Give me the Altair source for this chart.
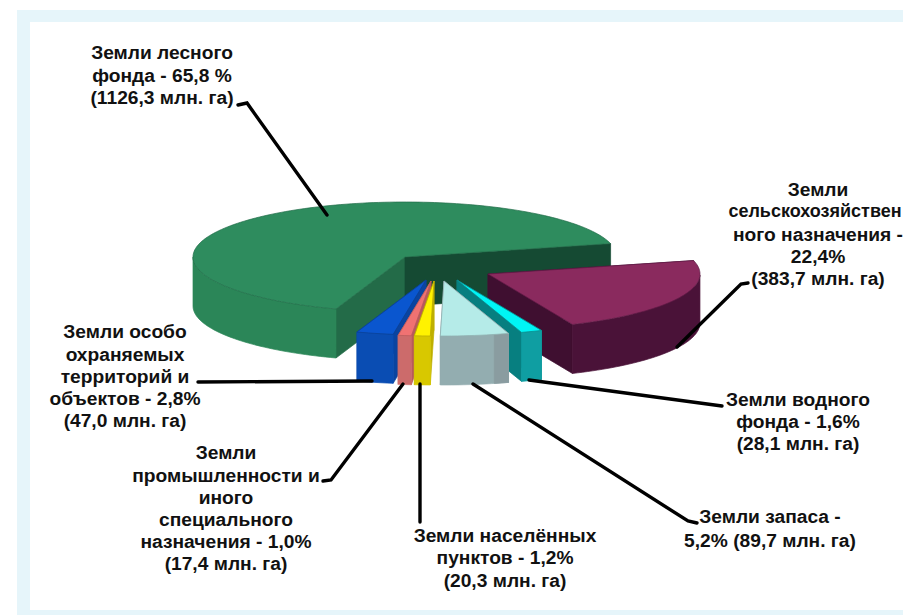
import math
import altair as alt
import pandas as pd

# ---- data
names = ["Земли лесного фонда", "Земли сельскохозяйственного назначения", "Земли водного фонда",
         "Земли запаса", "Земли населённых пунктов", "Земли промышленности и иного специального назначения",
         "Земли особо охраняемых территорий и объектов"]
shares = [65.8, 22.4, 1.6, 5.2, 1.2, 1.0, 2.8]
labels = [
    ["Земли лесного", "фонда - 65,8 %", "(1126,3 млн. га)"],
    ["Земли", "сельскохозяйствен", "ного назначения -", "22,4%", "(383,7 млн. га)"],
    ["Земли водного", "фонда - 1,6%", "(28,1 млн. га)"],
    ["Земли запаса -", "5,2% (89,7 млн. га)"],
    ["Земли населённых", "пунктов - 1,2%", "(20,3 млн. га)"],
    ["Земли", "промышленности и", "иного", "специального", "назначения - 1,0%", "(17,4 млн. га)"],
    ["Земли особо", "охраняемых", "территорий и", "объектов - 2,8%", "(47,0 млн. га)"],
]

# ---- layout and style
label_x = [162, 818, 798, 770, 505, 226, 125]
label_y = [[53, 76, 98], [190, 212, 235, 257, 279], [400, 422, 444], [517, 541],
           [536, 558, 581], [453, 476, 498, 520, 542, 564], [332, 355, 377, 399, 421]]
leaders = [
    [(238, 105), (247, 103), (327, 215)],
    [(748, 283), (741, 284), (677, 347)],
    [(529, 380), (722, 406)],
    [(473, 384), (688, 521), (697, 523)],
    [(420, 384), (420, 522)],
    [(403, 384), (331, 480), (323, 481)],
    [(198, 382), (372, 381)],
]
apex = [(405, 257), (488, 274), (457, 280), (444, 281), (434, 281), (431, 281), (426, 280)]
paint_order = [0, 1, 2, 6, 5, 4, 3]
top_col = ["#2e8c5e", "#8a2a5e", "#00f5f5", "#b5ebe8", "#fff200", "#f07272", "#0a56cf"]
rim_col = ["#2b8658", "#4a1238", "#0f9ea2", "#93adb0", "#d8c800", "#cc6b6b", "#0a4db3"]
cut_col = [("#236b48", "#154a33"), ("#4a1238", "#3f0f30"), ("#0c8587", "#077f80"), ("#8a9ca0", "#8a9ca0"),
           ("#bfb000", "#bfb000"), ("#b85a5a", "#b85a5a"), ("#0a44a0", "#0a44a0")]
edge_col = ["#1f6b47", "#5e1a45", "#0c8587", "#8fb0b0", "#b5a800", "#b85a5a", "#0a3f90"]
rim_shade = {3: (4.0, "#8a9ca0")}
RX, RY, H, START = 212, 55, 49, 109.0
FRAME = "#e6f5fa"
FONT_SIZE, LONG_SIZE, LONG_X = 19.2, 18, 815
LONG_LINE = "сельскохозяйствен"

features = []
def face(points, fill, stroke):
    ring = [list(p) for p in points] + [list(points[0])]
    features.append({"type": "Feature", "properties": {"fill": fill, "stroke": stroke},
                     "geometry": {"type": "Polygon", "coordinates": [ring]}})

def rim(cx, cy, t):
    r = math.radians(t)
    return (cx + RX * math.cos(r), cy + RY * math.sin(r))

# slices run clockwise: forest from 109 deg round the back, then the others on to 109 + 360
spans = []
t0 = START
for s in shares:
    spans.append((t0, t0 + s * 3.6))
    t0 += s * 3.6

for i in paint_order:
    t0, t1 = spans[i]
    cx, cy = apex[i]
    a, b = rim(cx, cy, t0), rim(cx, cy, t1)
    wall_a = ([(cx, cy), a, (a[0], a[1] + H), (cx, cy + H)], cut_col[i][0], math.cos(math.radians(t0)) < 0)
    wall_b = ([(cx, cy), b, (b[0], b[1] + H), (cx, cy + H)], cut_col[i][1], math.cos(math.radians(t1)) > 0)
    for pts, col, vis in sorted([wall_a, wall_b], key=lambda w: w[2]):
        face(pts, col, col)
    # front part of the rim wall
    steps = max(2, int((t1 - t0) / 1.5))
    ts = [t0 + (t1 - t0) * k / steps for k in range(steps + 1)]
    front = [t for t in ts if math.sin(math.radians(t)) >= 0]
    if len(front) >= 2:
        upper = [rim(cx, cy, t) for t in front]
        lower = [(x, y + H) for x, y in reversed(upper)]
        face(upper + lower, rim_col[i], rim_col[i])
    if i in rim_shade:
        span, col = rim_shade[i]
        upper = [rim(cx, cy, t) for t in (t0, t0 + span / 2, t0 + span)]
        lower = [(x, y + H) for x, y in reversed(upper)]
        face(upper + lower, col, col)
    arc = [rim(cx, cy, t) for t in ts]
    face([(cx, cy)] + arc, top_col[i], edge_col[i])

faces = alt.InlineData(values={"type": "FeatureCollection", "features": features},
                       format=alt.DataFormat(type="json", property="features"))

X = alt.Scale(domain=[8, 903], range=[0, 895])
Y = alt.Scale(domain=[8, 615], range=[0, 607])
x_ = alt.X("x:Q", scale=X, axis=None)
y_ = alt.Y("y:Q", scale=Y, axis=None)
x2_ = alt.X2("x2:Q")
y2_ = alt.Y2("y2:Q")

frame = alt.Chart(pd.DataFrame({
    "x": [17, 17, 17], "x2": [903, 30, 903],
    "y": [10, 10, 610], "y2": [22, 615, 615]})).mark_rect(color=FRAME, strokeWidth=0).encode(
    x=x_, x2=x2_, y=y_, y2=y2_)

pie = alt.Chart(faces).mark_geoshape(strokeWidth=0.7).encode(
    fill=alt.Fill("properties.fill:N", scale=None),
    stroke=alt.Stroke("properties.stroke:N", scale=None),
).project(type="identity", scale=1, translate=[-8, -8])

lead_rows = [{"id": i, "n": k, "x": p[0], "y": p[1]} for i, l in enumerate(leaders) for k, p in enumerate(l)]
lead = alt.Chart(pd.DataFrame(lead_rows)).mark_line(color="#000000", strokeWidth=3.4, strokeCap="round").encode(
    x=x_, y=y_, detail="id:N", order="n:Q")

text_rows = [{"t": t, "x": LONG_X if t == LONG_LINE else label_x[i], "y": label_y[i][k],
              "fs": LONG_SIZE if t == LONG_LINE else FONT_SIZE}
             for i, l in enumerate(labels) for k, t in enumerate(l)]
text = alt.Chart(pd.DataFrame(text_rows)).mark_text(
    font="Liberation Sans", fontWeight="bold", color="#111111", align="center", baseline="middle"
).encode(x=x_, y=y_, text="t:N", size=alt.Size("fs:Q", scale=None, legend=None))

chart = alt.layer(frame, pie, lead, text).properties(
    width=895, height=607, padding=0,
    autosize=alt.AutoSizeParams(type="none"),
    background="#ffffff",
).configure_view(stroke=None)

chart.save("out.html", embed_options={"renderer": "svg", "actions": False})
